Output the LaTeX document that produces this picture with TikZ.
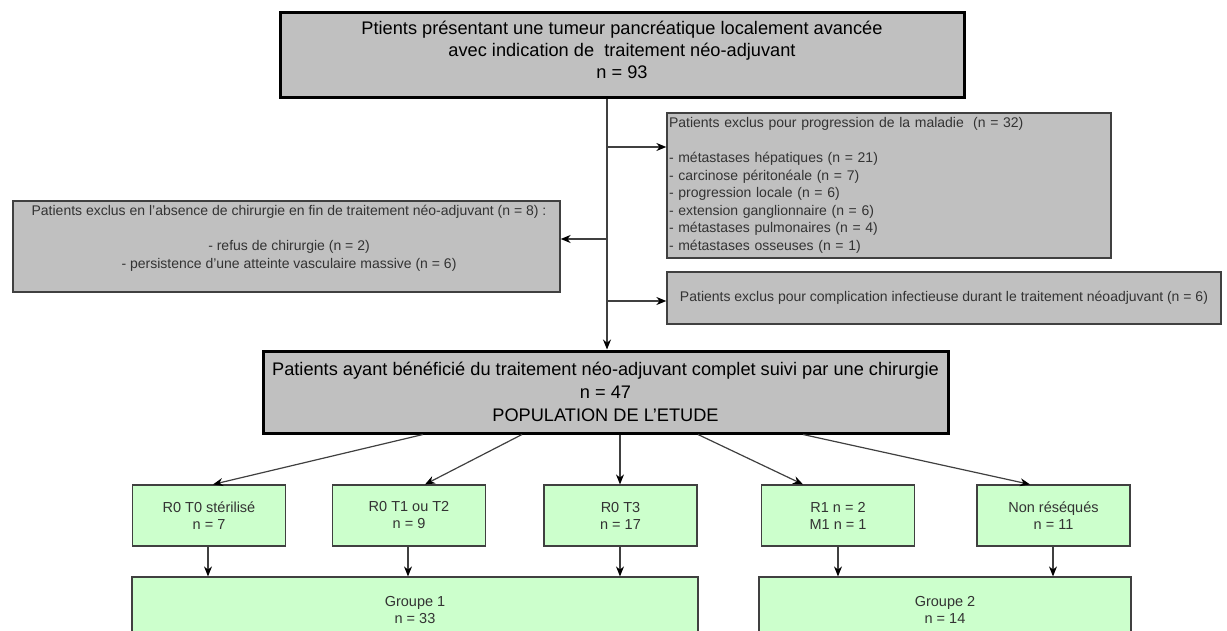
\documentclass[tikz,border=0pt]{standalone}
\usepackage{fontspec}
\setmainfont{Liberation Sans}
\usetikzlibrary{arrows.meta}
\tikzset{>={Stealth[length=10pt,width=8pt,color=black]}}
\definecolor{gr1}{HTML}{C0C0C0}
\definecolor{vert}{HTML}{CCFFCC}
\definecolor{trait}{HTML}{404040}
\tikzset{
  grosbloc/.style={draw=black, line width=3pt, fill=gr1, inner sep=0pt},
  exclus/.style={draw=trait, line width=1.3pt, fill=gr1, inner sep=0pt, text=black!80, font=\fontsize{14}{17.5}\selectfont},
  rbloc/.style={draw=trait, line width=1.2pt, fill=vert, inner sep=0pt, align=center, text=black!80,
    minimum width=153pt, minimum height=61pt, font=\fontsize{14.5}{17}\selectfont},
  fleche/.style={->, draw=trait, line width=1.2pt},
}

\begin{document}
\begin{tikzpicture}[x=1pt, y=-1pt]
    \useasboundingbox (0,0) rectangle (1227,631);
    % patients inclus au depart
    \node[grosbloc, minimum width=684pt, minimum height=85pt](top) at (622,55.5){};
    \node[align=center, font=\fontsize{18.2}{22}\selectfont](toptxt) at (622,49.5){Ptients présentant une tumeur pancréatique localement avancée\\avec indication de\ \ traitement néo-adjuvant\\n = 93};
    % exclusions
    \node[exclus, text width=440pt, minimum height=145pt, align=left, inner xsep=2pt](progr) at (889,185.5){Patients exclus pour progression de la maladie\ \ (n = 32)\\[17.5pt]- métastases hépatiques (n = 21)\\- carcinose péritonéale (n = 7)\\- progression locale (n = 6)\\- extension ganglionnaire (n = 6)\\- métastases pulmonaires (n = 4)\\- métastases osseuses (n = 1)};
    \node[exclus, minimum width=547pt, minimum height=91pt](chir) at (286.5,246.5){};
    \node[align=center, text=black!80, font=\fontsize{14}{17.5}\selectfont](chirtxt) at (289,238.5){Patients exclus en l'absence de chirurgie en fin de traitement néo-adjuvant (n = 8) :\\[17.5pt]- refus de chirurgie (n = 2)\\- persistence d'une atteinte vasculaire massive (n = 6)};
    \node[exclus, minimum width=554pt, minimum height=52pt](infect) at (944,298){Patients exclus pour complication infectieuse durant le traitement néoadjuvant (n = 6)};
    % population de l'etude
    \node[grosbloc, minimum width=685pt, minimum height=82pt, align=center, font=\fontsize{18.2}{23}\selectfont](etude) at (605.5,392){Patients ayant bénéficié du traitement néo-adjuvant complet suivi par une chirurgie\\n = 47\\POPULATION DE L'ETUDE};
    % resultats
    \node[rbloc](r1) at (209,515.5){R0 T0 stérilisé\\n = 7};
    \node[rbloc](r2) at (409,515.5){R0 T1 ou T2\\n = 9};
    \node[rbloc](r3) at (620.5,515.5){R0 T3\\n = 17};
    \node[rbloc](r4) at (838,515.5){R1 n = 2\\M1 n = 1};
    \node[rbloc](r5) at (1053.5,515.5){Non réséqués\\n = 11};
    \node[rbloc, minimum width=566pt, minimum height=66pt](g1) at (415,610){Groupe 1\\n = 33};
    \node[rbloc, minimum width=372pt, minimum height=66pt](g2) at (945,610){Groupe 2\\n = 14};
    % fleches
    \coordinate(tronc) at (607,0);
    \coordinate(jp) at (607,147);
    \coordinate(jl) at (607,239);
    \coordinate(ji) at (607,301);
    \draw[fleche](top.south -| tronc)--(etude.north -| tronc);
    \draw[fleche](jp)--(jp -| progr.west);
    \draw[fleche](jl)--(jl -| chir.east);
    \draw[fleche](ji)--(ji -| infect.west);
    \draw[fleche](etude.south -| 423,0)--(r1.north -| 213,0);
    \draw[fleche](etude.south -| 522,0)--(r2.north -| 425,0);
    \draw[fleche](etude.south -| 620,0)--(r3.north -| 620,0);
    \draw[fleche](etude.south -| 698,0)--(r4.north -| 803,0);
    \draw[fleche](etude.south -| 803,0)--(r5.north -| 1030,0);
    \draw[fleche](r1.south -| 208,0)--(g1.north -| 208,0);
    \draw[fleche](r2.south -| 408,0)--(g1.north -| 408,0);
    \draw[fleche](r3.south -| 620,0)--(g1.north -| 620,0);
    \draw[fleche](r4.south -| 838,0)--(g2.north -| 838,0);
    \draw[fleche](r5.south -| 1053,0)--(g2.north -| 1053,0);
\end{tikzpicture}
\end{document}
